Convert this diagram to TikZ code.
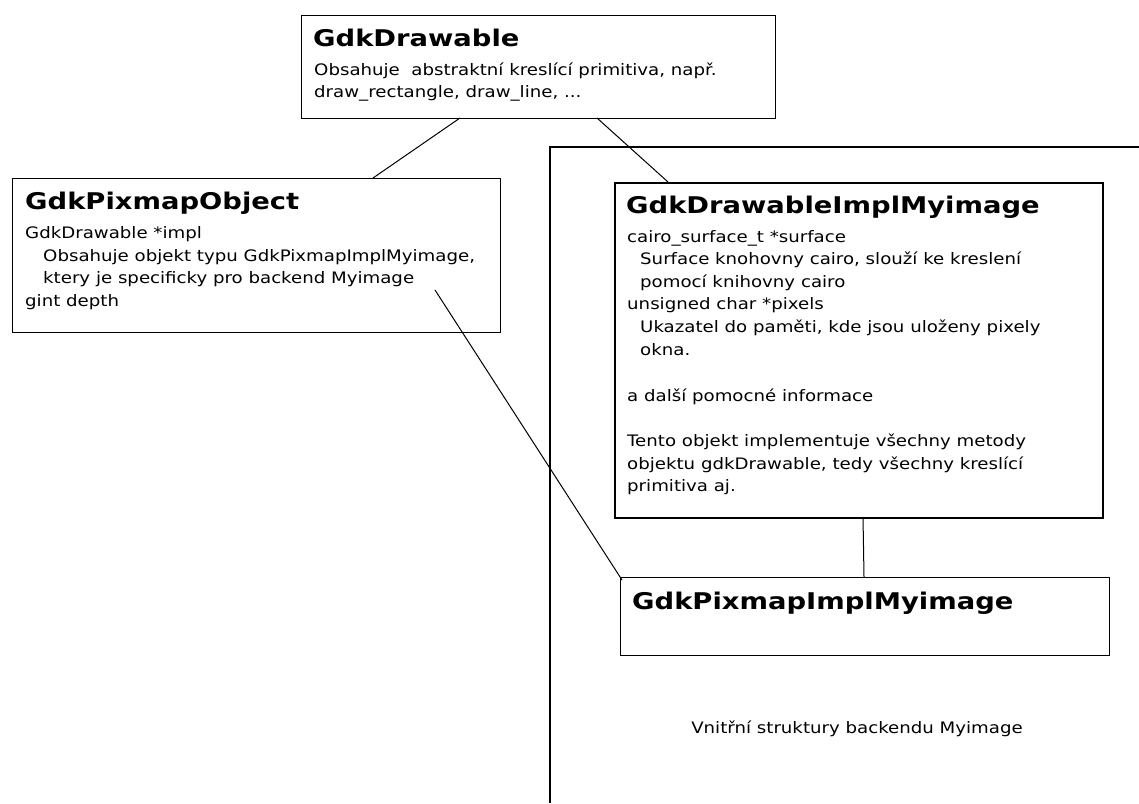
\documentclass[tikz,border=0pt]{standalone}
\usepackage{fontspec}
\setmainfont{DejaVu Sans}[FakeStretch=1.15]
\newfontfamily\titlefont{DejaVu Sans Bold}[FakeStretch=1.19]
\begin{document}
\begin{tikzpicture}[x=1pt,y=-1pt,
  box/.style={draw, line width=1pt, anchor=north west, inner sep=0pt},
  thickbox/.style={box, line width=2pt},
  ttl/.style={anchor=base west, inner sep=0pt, font=\fontsize{23}{27}\selectfont\titlefont},
  txt/.style={anchor=base west, inner sep=0pt, font=\fontsize{15.8}{18}\selectfont},
  conn/.style={line width=1pt}]
\useasboundingbox (0,0) rectangle (1139,803);
% frame
\draw[line width=1.3pt] (550,803) -- (550,147) -- (1139,147);
% boxes
\node[box, minimum width=474pt, minimum height=103pt] (drw) at (301,15) {};
\node[box, minimum width=488pt, minimum height=154pt] (pobj) at (12,178) {};
\node[thickbox, minimum width=488pt, minimum height=335pt] (dimpl) at (614,182) {};
\node[box, minimum width=489pt, minimum height=78pt] (pimpl) at (620,577) {};
% texts
\node[ttl] (t1) at (313,46) {GdkDrawable};
\node[txt] (t1a) at (314,75) {Obsahuje\ \ abstraktní kreslící primitiva, např.};
\node[txt] (t1b) at (314,97) {draw\_rectangle, draw\_line, ...};
\node[ttl] (t2) at (25,209) {GdkPixmapObject};
\node[txt] (t2a) at (25,238) {GdkDrawable *impl};
\node[txt] (t2b) at (43,261) {Obsahuje objekt typu GdkPixmapImplMyimage,};
\node[txt] (t2c) at (43,283) {ktery je specificky pro backend Myimage};
\node[txt] (t2d) at (25,306) {gint depth};
\node[ttl] (t3) at (626,213) {GdkDrawableImplMyimage};
\node[txt] (t3a) at (627,242) {cairo\_surface\_t *surface};
\node[txt] (t3b) at (640,264) {Surface knohovny cairo, slouží ke kreslení};
\node[txt] (t3c) at (640,287) {pomocí knihovny cairo};
\node[txt] (t3d) at (627,309) {unsigned char *pixels};
\node[txt] (t3e) at (640,332) {Ukazatel do paměti, kde jsou uloženy pixely};
\node[txt] (t3f) at (640,355) {okna.};
\node[txt] (t3g) at (627,401) {a další pomocné informace};
\node[txt] (t3h) at (627,446) {Tento objekt implementuje všechny metody};
\node[txt] (t3i) at (627,469) {objektu gdkDrawable, tedy všechny kreslící};
\node[txt] (t3j) at (627,491) {primitiva aj.};
\node[ttl] (t4) at (632,609) {GdkPixmapImplMyimage};
\node[txt, anchor=base] (lbl) at (857,733) {Vnitřní struktury backendu Myimage};
% connectors
\coordinate (c1) at (460,118);
\coordinate (c2) at (373,178);
\coordinate (c3) at (597,118);
\coordinate (c4) at (668,182);
\coordinate (c5) at (435,290);
\coordinate (c6) at (622,580);
\coordinate (c7) at (863,517);
\coordinate (c8) at (864,577);
\draw[conn] (c1) -- (c2);
\draw[conn] (c3) -- (c4);
\draw[conn] (c5) -- (c6);
\draw[conn] (c7) -- (c8);
\end{tikzpicture}
\end{document}
